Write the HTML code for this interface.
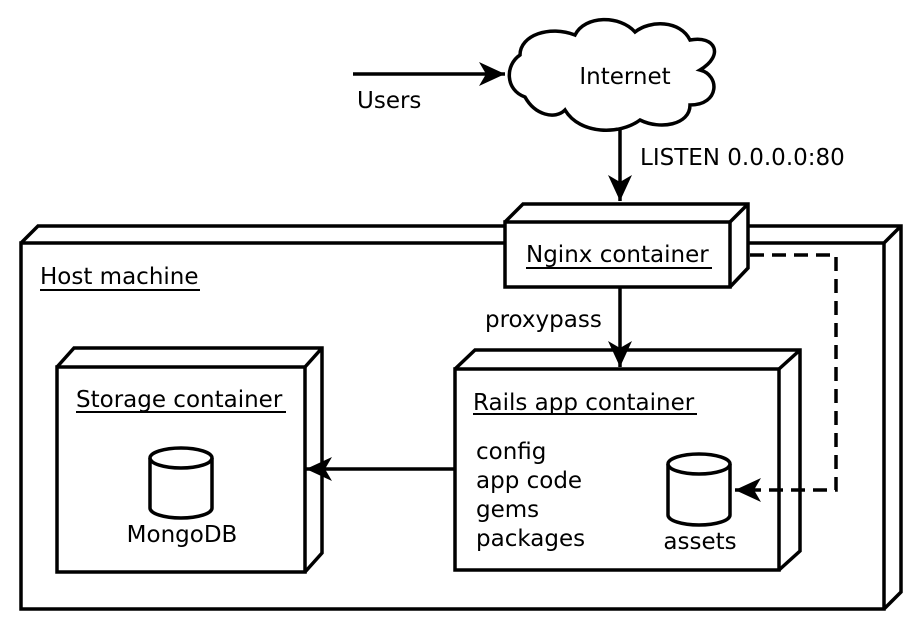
<!DOCTYPE html>
<html><head><style>body{margin:0;background:#fff}svg{display:block}</style></head><body>
<svg width="920" height="625" viewBox="0 0 920 625" xmlns="http://www.w3.org/2000/svg" font-family="DejaVu Sans, Liberation Sans, sans-serif" font-size="23" fill="none" stroke="#000" stroke-width="3.5">
<defs>
<marker id="b" markerWidth="28" markerHeight="24" refX="26" refY="12" orient="auto" markerUnits="userSpaceOnUse"><path d="M0,0 L26,12 L0,24 L7,12 Z" fill="#000" stroke="none"/></marker></defs>
<!-- host -->
<path d="M21,243 L38,226 L901,226 L901,592 L884,609 M884,243 L901,226 M21,243 L884,243 L884,609 L21,609 Z" fill="#fff"/>
<!-- nginx -->
<path d="M505,222 L523,204 L748,204 L748,268 L730,287 M730,222 L748,204" fill="#fff"/>
<rect x="505" y="222" width="225" height="65" fill="#fff"/>
<!-- storage -->
<path d="M57,367 L74,348 L322,348 L322,553 L305,572 M305,367 L322,348" fill="#fff"/>
<rect x="57" y="367" width="248" height="205" fill="#fff"/>
<!-- rails -->
<path d="M455,369 L475,350 L800,350 L800,551 L779,570 M779,369 L800,350" fill="#fff"/>
<rect x="455" y="369" width="324" height="201" fill="#fff"/>
<!-- cloud -->
<path d="M520,55 C505,65 505,90 525,97 C535,115 555,120 565,110 C580,135 620,135 640,120 C660,130 690,125 690,105 C720,105 720,75 700,70 C725,55 715,35 690,40 C680,20 650,20 635,32 C620,15 585,15 575,35 C550,25 520,35 520,55 Z" fill="#fff"/>
<!-- arrows -->
<line x1="353" y1="74" x2="505" y2="74" marker-end="url(#b)"/>
<line x1="620" y1="130" x2="620" y2="201" marker-end="url(#b)"/>
<line x1="620" y1="287" x2="620" y2="367" marker-end="url(#b)"/>
<line x1="455" y1="469" x2="306" y2="469" marker-end="url(#b)"/>
<path d="M750,255 L836,255 L836,490 L735,490" stroke-dasharray="14,8" marker-end="url(#b)"/>
<!-- cylinders -->
<path d="M150,458 L150,508 A31,10 0 0 0 212,508 L212,458" fill="#fff"/>
<ellipse cx="181" cy="458" rx="31" ry="10" fill="#fff"/>
<path d="M668,464 L668,515 A31,10 0 0 0 730,515 L730,464" fill="#fff"/>
<ellipse cx="699" cy="464" rx="31" ry="10" fill="#fff"/>
<g fill="#000" stroke="none">
<text x="625" y="84" text-anchor="middle">Internet</text>
<text x="357" y="108">Users</text>
<text x="640" y="165">LISTEN 0.0.0.0:80</text>
<text x="526" y="262">Nginx container</text>
<text x="40" y="284">Host machine</text>
<text x="485" y="327">proxypass</text>
<text x="76" y="407">Storage container</text>
<text x="473" y="410">Rails app container</text>
<text x="476" y="459">config</text>
<text x="476" y="488">app code</text>
<text x="476" y="517">gems</text>
<text x="476" y="546">packages</text>
<text x="182" y="542" text-anchor="middle">MongoDB</text>
<text x="700" y="549" text-anchor="middle">assets</text>
</g>
<g stroke-width="2">
<line x1="526" y1="268" x2="712" y2="268"/>
<line x1="40" y1="290" x2="200" y2="290"/>
<line x1="76" y1="412" x2="286" y2="412"/>
<line x1="473" y1="414" x2="697" y2="414"/>
</g>
</svg>
</body></html>
